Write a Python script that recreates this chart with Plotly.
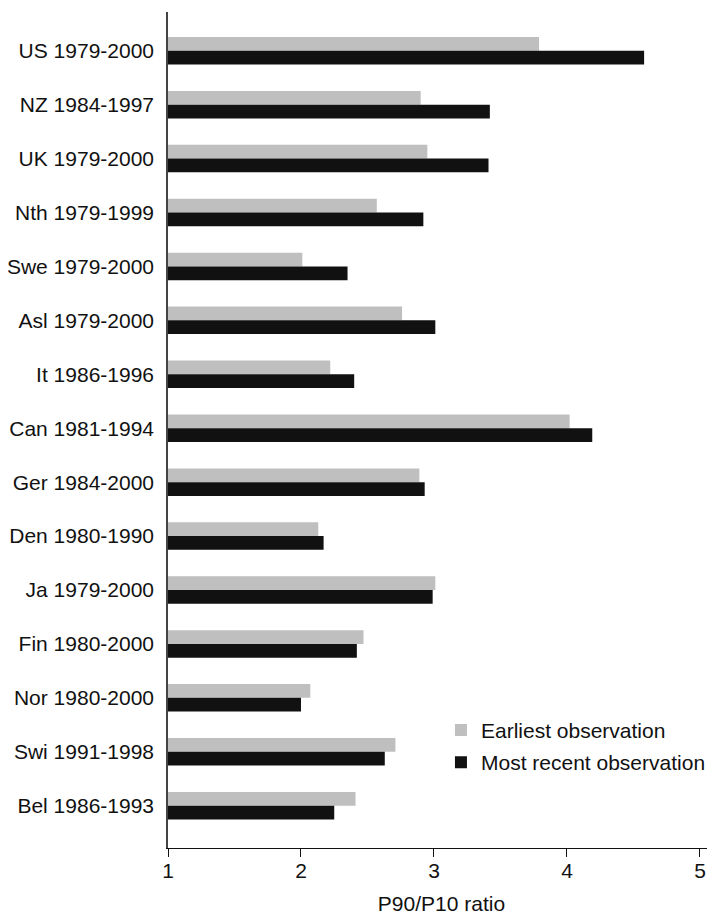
import plotly.graph_objects as go

categories = ["US 1979-2000", "NZ 1984-1997", "UK 1979-2000", "Nth 1979-1999",
              "Swe 1979-2000", "Asl 1979-2000", "It 1986-1996", "Can 1981-1994",
              "Ger 1984-2000", "Den 1980-1990", "Ja 1979-2000", "Fin 1980-2000",
              "Nor 1980-2000", "Swi 1991-1998", "Bel 1986-1993"]
earliest = [3.79, 2.90, 2.95, 2.57, 2.01, 2.76, 2.22, 4.02, 2.89, 2.13,
            3.01, 2.47, 2.07, 2.71, 2.41]
most_recent = [4.58, 3.42, 3.41, 2.92, 2.35, 3.01, 2.40, 4.19, 2.93, 2.17,
               2.99, 2.42, 2.00, 2.63, 2.25]
x_ticks = [1, 2, 3, 4, 5]

FONT = "Liberation Sans, Arial, sans-serif"
FS = 21

fig = go.Figure()
fig.add_trace(go.Bar(y=categories, x=[v - 1 for v in earliest], base=1,
                     orientation="h", name="Earliest observation", legendgroup="a",
                     marker=dict(color="#BFBFBF", line=dict(width=0))))
fig.add_trace(go.Bar(y=categories, x=[v - 1 for v in most_recent], base=1,
                     orientation="h", name="Most recent observation", legendgroup="b",
                     marker=dict(color="#111111", line=dict(width=0))))

fig.update_layout(
    width=740, height=907,
    margin=dict(l=160, r=33, t=4, b=67),
    paper_bgcolor="white", plot_bgcolor="white",
    barmode="group", bargap=0.49, bargroupgap=0,
    font=dict(family=FONT, size=FS, color="#111111"),
    showlegend=True,
    legend=dict(x=0.499, y=0.1653, xanchor="left", yanchor="top",
                bgcolor="rgba(0,0,0,0)", font=dict(size=FS, family=FONT),
                traceorder="grouped", tracegroupgap=2),
    xaxis=dict(range=[1, 5.113], tickvals=x_ticks, showgrid=False, zeroline=False,
               showline=True, linecolor="#111111", linewidth=1,
               ticks="outside", ticklen=8, tickcolor="#111111", automargin=False,
               ticklabelstandoff=-4,
               tickfont=dict(size=FS, family=FONT),
               title=dict(text="P90/P10 ratio", font=dict(size=FS, family=FONT), standoff=20)),
    yaxis=dict(categoryorder="array", categoryarray=categories,
               range=[14.784, -0.718], showgrid=False, zeroline=False,
               showline=True, linecolor="#444444", linewidth=1.5,
               ticks="", ticklabelstandoff=8, automargin=False,
               tickfont=dict(size=FS, family=FONT)),
)

fig.write_html("out.html")
